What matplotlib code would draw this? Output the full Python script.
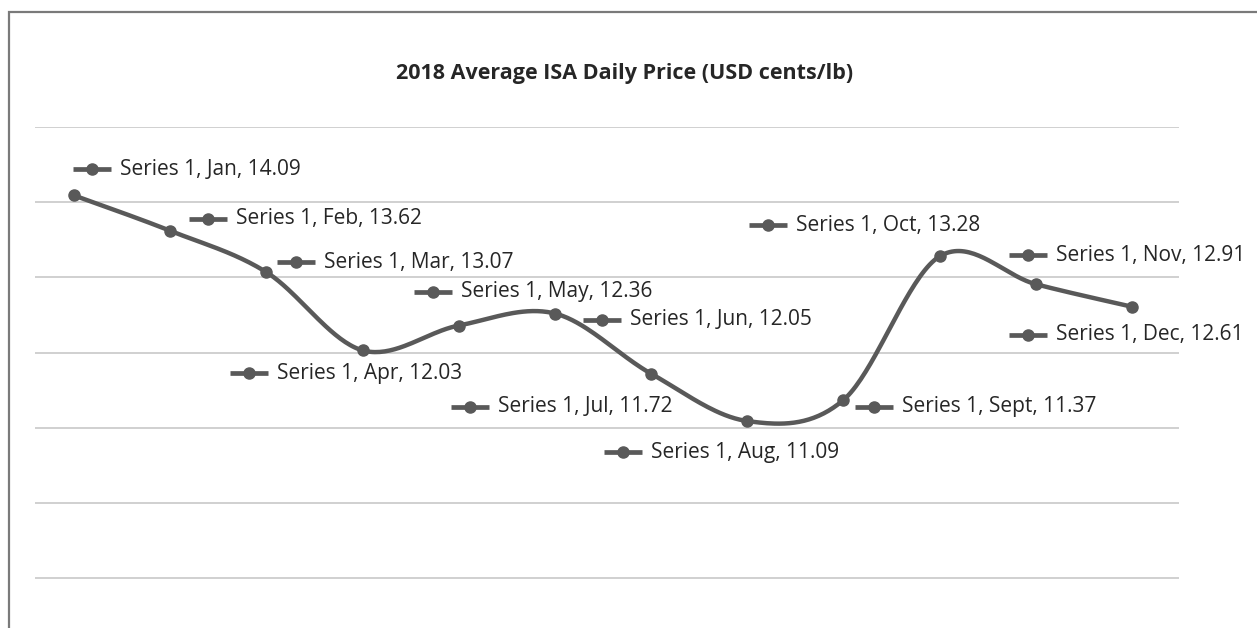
import numpy as np
import matplotlib
matplotlib.use("Agg")
import matplotlib.pyplot as plt
from matplotlib.transforms import offset_copy
from matplotlib.patches import Rectangle

# ---- data ----
months = ["Jan", "Feb", "Mar", "Apr", "May", "Jun", "Jul", "Aug", "Sept", "Oct", "Nov", "Dec"]
prices = [14.09, 13.62, 13.07, 12.03, 12.36, 12.52, 11.72, 11.09, 11.37, 13.28, 12.91, 12.61]
label_values = ["14.09", "13.62", "13.07", "12.03", "12.36", "12.05", "11.72", "11.09",
                "11.37", "13.28", "12.91", "12.61"]
series_name = "Series 1"
title = "2018 Average ISA Daily Price (USD cents/lb)"
grid_values = [9, 10, 11, 12, 13, 14, 15]

# ---- layout (pixel offsets of each data label key from its point) ----
label_offsets = [(-1, -26), (19, -12), (11, -10), (-133, 23), (-45, -34), (28, 6),
                 (-200, 33), (-143, 31), (12, 7), (-191, -31), (-27, -29), (-123, 28)]

W, H = 1257, 628
fig = plt.figure(figsize=(W / 100, H / 100), dpi=100)
fig.patch.set_facecolor("white")

ax_left, ax_right = 35 / W, 1179 / W
ax_top = 1 - 127 / H
ax = fig.add_axes([ax_left, 0.0, ax_right - ax_left, ax_top])
ax.set_xlim(-0.4055, 11.489)
ax.set_ylim(8.338, 15)
for s in ax.spines.values():
    s.set_visible(False)
ax.set_xticks([])
ax.set_yticks(grid_values)
ax.tick_params(left=False, labelleft=False)
ax.yaxis.grid(True, color="#c4c4c4", linewidth=1.1)
ax.set_axisbelow(True)
ax.patch.set_alpha(0)

line_col = "#595959"
x = np.arange(len(prices))
y = np.array(prices, dtype=float)

# Smoothed line (Bezier / Catmull-Rom style smoothing)
P = np.column_stack([x, y])
Pext = np.vstack([P[0], P, P[-1]])
curve = []
t = np.linspace(0, 1, 40)[:, None]
for i in range(len(P) - 1):
    p0, p1, p2, p3 = Pext[i], Pext[i + 1], Pext[i + 2], Pext[i + 3]
    c1 = p1 + (p2 - p0) / 6.0
    c2 = p2 - (p3 - p1) / 6.0
    seg = ((1 - t) ** 3) * p1 + 3 * ((1 - t) ** 2) * t * c1 + 3 * (1 - t) * t ** 2 * c2 + t ** 3 * p2
    curve.append(seg if i == 0 else seg[1:])
curve = np.vstack(curve)
ax.plot(curve[:, 0], curve[:, 1], color=line_col, lw=3.2, solid_capstyle="round", zorder=3)
ax.plot(x, y, "o", color=line_col, ms=8, zorder=4)

# Data labels with legend key
key_len = 38
for xi, yi, m, lv, (dx, dy) in zip(x, y, months, label_values, label_offsets):
    tr = offset_copy(ax.transData, fig=fig, x=dx + key_len / 2, y=-dy, units="dots")
    ax.plot([xi], [yi], marker="_", ms=key_len * 0.72, mew=3.4, color=line_col,
            transform=tr, zorder=5, clip_on=False)
    ax.plot([xi], [yi], marker="o", ms=8, color=line_col, transform=tr, zorder=6, clip_on=False)
    ax.annotate(f"{series_name}, {m}, {lv}", xy=(xi, yi), xytext=(dx + key_len + 9, -dy),
                textcoords="offset pixels", va="center", ha="left", fontsize=15,
                family="Open Sans", color="#262626", annotation_clip=False, zorder=6)

fig.text(625 / W, 1 - 73 / H, title, ha="center", va="center", fontsize=15.5,
         fontweight="bold", family="Open Sans", color="#262626")

# chart border (left and top visible, rest cropped)
fig.patches.append(Rectangle((8.5 / W, -0.2), 1.5, 1.2 - 12 / H, transform=fig.transFigure,
                             fill=False, edgecolor="#7a7a7a", lw=1.6, figure=fig))

fig.savefig("out.png", dpi=100, facecolor="white")
